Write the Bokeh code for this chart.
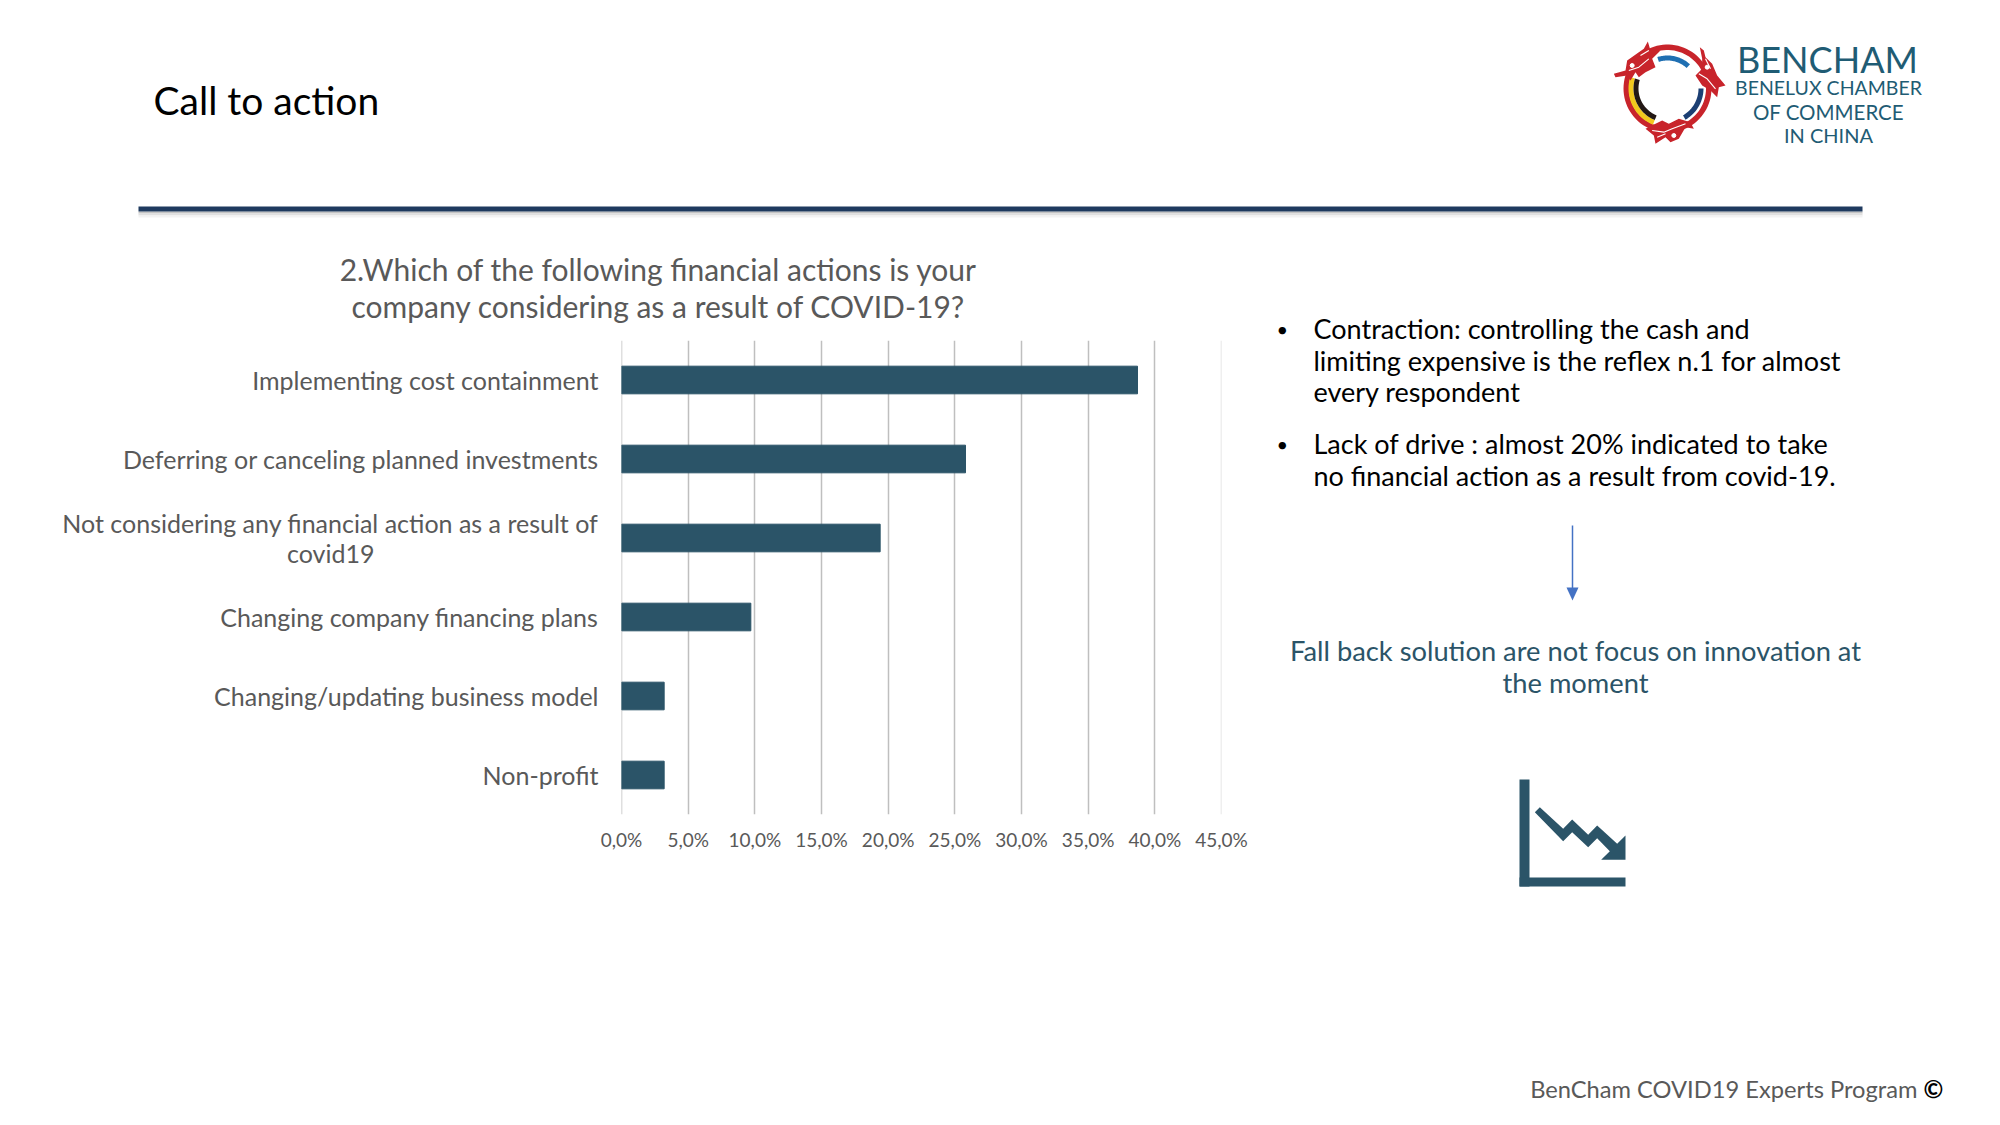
import math
from bokeh.embed import file_html
from bokeh.resources import INLINE
from bokeh.plotting import figure
from bokeh.layouts import column, row
from bokeh.core.properties import value
from bokeh.models import Span, FixedTicker, FactorRange, Range1d

categories = ["Implementing cost containment",
              "Deferring or canceling planned investments",
              "Not considering any financial action as a result of\ncovid19" + "\u00a0" * 35,
              "Changing company financing plans",
              "Changing/updating business model",
              "Non-profit"]
values = [38.7, 25.8, 19.4, 9.7, 3.2, 3.2]
ticks = [0, 5, 10, 15, 20, 25, 30, 35, 40, 45]
tick_labels = ["0,0%", "5,0%", "10,0%", "15,0%", "20,0%", "25,0%", "30,0%", "35,0%", "40,0%", "45,0%"]

FONT = "Lato"
W, H = 1984, 1109
BAR = "#2B5468"
GREY = "#595959"
LOGO = "#1F5C74"
RED = "#C8242B"
LEFT, RIGHT, TOP, BOTTOM = 621, 1221, 340, 814
SPLIT_X, STRIP_Y, CHART_Y, FOOT_Y = 1260, 230, 330, 900


def page_fig(x0, y0, x1, y1):
    f = figure(width=x1 - x0, height=y1 - y0, output_backend="svg", toolbar_location=None,
               x_range=Range1d(x0, x1), y_range=Range1d(y1, y0),
               x_axis_location=None, y_axis_location=None, min_border=0, frame_align=False)
    f.outline_line_color = None
    f.grid.visible = False
    return f


def text(f, s, x, y, size, color="#000000", align="left", style="normal"):
    f.text(x=[x], y=[y], text=[s], text_font=value(FONT), text_font_size=value(f"{size}px"),
           text_color=color, text_align=align, text_baseline="middle", text_font_style=style)


def poly(f, pts, color):
    f.patch(x=[a for a, b in pts], y=[b for a, b in pts], fill_color=color, line_color=None)


def box(f, x0, y0, x1, y1, color):
    poly(f, [(x0, y0), (x1, y0), (x1, y1), (x0, y1)], color)


def arc(f, cx, cy, r0, r1, a0, a1, color, n=40):
    o = [(cx + r1 * math.cos(math.radians(a0 + (a1 - a0) * i / n)),
          cy - r1 * math.sin(math.radians(a0 + (a1 - a0) * i / n))) for i in range(n + 1)]
    j = [(cx + r0 * math.cos(math.radians(a1 - (a1 - a0) * i / n)),
          cy - r0 * math.sin(math.radians(a1 - (a1 - a0) * i / n))) for i in range(n + 1)]
    poly(f, o + j, color)


# ---- top strip: title, rule, logo
top = page_fig(0, 0, W, STRIP_Y)
text(top, "Call to action", 153, 99, 39)
box(top, 138, 211, 1862, 213, "#C4C4C4")
box(top, 138, 213, 1862, 215, "#E0E0E0")
box(top, 138, 215, 1862, 217, "#F3F3F3")
box(top, 138, 206, 1862, 211, "#1F3A5F")

CX, CY = 1667, 88
arc(top, CX, CY, 38.5, 44, 0, 360, RED, 90)
arc(top, CX, CY, 34, 39, 163, 248, "#F2C81E")
arc(top, CX, CY, 29, 34, 163, 248, "#231815")
arc(top, CX, CY, 28, 33, 47, 108, "#1F6FB2")
arc(top, CX, CY, 31, 36, -60, 0, "#1C3F73")

lx = lambda v: 1610 + v / 3
ly = lambda v: 35 + v / 3
dragons = [
    [(10, 115), (45, 105), (50, 75), (85, 50), (100, 40), (112, 18), (120, 45), (150, 45), (125, 70),
     (135, 95), (105, 110), (85, 125), (75, 110), (60, 135), (50, 120), (15, 125)],
    [(268, 35), (280, 45), (285, 65), (305, 85), (320, 120), (345, 150), (325, 155), (320, 185),
     (300, 165), (275, 150), (255, 120), (275, 100), (275, 70)],
    [(105, 280), (135, 265), (155, 255), (175, 265), (205, 250), (240, 260), (250, 280), (225, 275),
     (205, 310), (180, 320), (165, 305), (135, 325), (130, 300)],
]
for d in dragons:
    poly(top, [(lx(a), ly(b)) for a, b in d], RED)
strokes = [
    [(55, 105), (85, 95), (115, 70)], [(90, 60), (115, 45)],
    [(265, 115), (290, 130), (315, 160)], [(285, 70), (300, 100)],
    [(125, 285), (160, 290), (185, 280), (225, 265)], [(140, 305), (165, 295)],
]
for s in strokes:
    top.line([lx(a) for a, b in s], [ly(b) for a, b in s], line_color="white", line_width=1.1)
top.scatter([lx(65), lx(290), lx(190)], [ly(90), ly(95), ly(300)], size=4, color="white")

text(top, "BENCHAM", 1827, 58, 36, LOGO, "center")
text(top, "BENELUX CHAMBER", 1828, 87, 19.5, LOGO, "center")
text(top, "OF COMMERCE", 1828, 111, 20.5, LOGO, "center")
text(top, "IN CHINA", 1828, 134, 20, LOGO, "center")

# ---- chart title strip
head = page_fig(0, STRIP_Y, SPLIT_X, CHART_Y)
text(head, "2.Which of the following financial actions is your", 658, 268, 30, GREY, "center")
text(head, "company considering as a result of COVID-19?", 658, 305, 30, GREY, "center")

# ---- chart
p = figure(width=SPLIT_X, height=FOOT_Y - CHART_Y, output_backend="svg", toolbar_location=None,
           x_range=Range1d(0, 45), y_range=FactorRange(factors=categories[::-1], range_padding=0),
           min_border_left=LEFT, min_border_right=SPLIT_X - RIGHT,
           min_border_top=TOP - CHART_Y, min_border_bottom=FOOT_Y - BOTTOM, frame_align=False)
p.outline_line_color = None
p.hbar(y=categories, right=values, left=0, height=0.35, color=BAR)

p.xaxis.ticker = FixedTicker(ticks=ticks)
p.xaxis.major_label_overrides = {t: l for t, l in zip(ticks, tick_labels)}
p.xaxis.axis_line_color = None
p.xaxis.major_tick_line_color = None
p.xaxis.minor_tick_line_color = None
p.xaxis.major_label_text_font = FONT
p.xaxis.major_label_text_font_size = "19px"
p.xaxis.major_label_text_color = GREY
p.xaxis.major_label_standoff = 7

p.yaxis.axis_line_color = None
p.yaxis.major_tick_line_color = None
p.yaxis.major_label_text_font = FONT
p.yaxis.major_label_text_font_size = "25px"
p.yaxis.major_label_text_color = GREY
p.yaxis.major_label_standoff = 17
p.yaxis.major_label_text_line_height = 1.0

p.xgrid.ticker = FixedTicker(ticks=ticks)
p.xgrid.grid_line_color = "#BFBFBF"
p.xgrid.grid_line_width = 1.5
p.ygrid.grid_line_color = None
p.add_layout(Span(location=0, dimension="height", line_color="#BFBFBF", line_width=1.5, level="underlay"))
p.add_layout(Span(location=45, dimension="height", line_color="#E0E0E0", line_width=1.5, level="underlay"))

# ---- right column
side = page_fig(SPLIT_X, STRIP_Y, W, FOOT_Y)
text(side, "•", 1276, 328, 20)
text(side, "Contraction: controlling the cash and", 1313, 328, 27)
text(side, "limiting expensive is the reflex n.1 for almost", 1313, 360, 27)
text(side, "every respondent", 1313, 391, 27)
text(side, "•", 1276, 443, 20)
text(side, "Lack of drive : almost 20% indicated to take", 1313, 443, 27)
text(side, "no financial action as a result from covid-19.", 1313, 475, 27)

side.segment(x0=[1572], y0=[525], x1=[1572], y1=[590], line_color="#4472C4", line_width=1.5)
poly(side, [(1566, 587), (1578, 587), (1572, 600)], "#4472C4")

text(side, "Fall back solution are not focus on innovation at", 1575, 650, 27.3, BAR, "center")
text(side, "the moment", 1575, 682, 27.3, BAR, "center")

box(side, 1519, 779, 1529, 886, BAR)
box(side, 1519, 877, 1625, 886, BAR)
zx = lambda v: 1480 + v / 3
zy = lambda v: 500 + v / 3
poly(side, [(zx(a), zy(b)) for a, b in
            [(178, 920), (248, 985), (275, 957), (323, 1003), (350, 975), (410, 1030), (435, 1005),
             (435, 1078), (362, 1078), (388, 1052), (350, 1013), (323, 1040), (275, 995), (248, 1022),
             (163, 935)]], BAR)

# ---- footer
foot = page_fig(0, FOOT_Y, W, H)
text(foot, "BenCham COVID19 Experts Program", 1917, 1088, 23.7, GREY, "right")
text(foot, "©", 1923, 1088, 24, "#000000", "left", "bold")

page = column(top, row(column(head, p, spacing=0), side, spacing=0), foot, spacing=0)
open("out.html", "w").write(file_html(page, INLINE))
